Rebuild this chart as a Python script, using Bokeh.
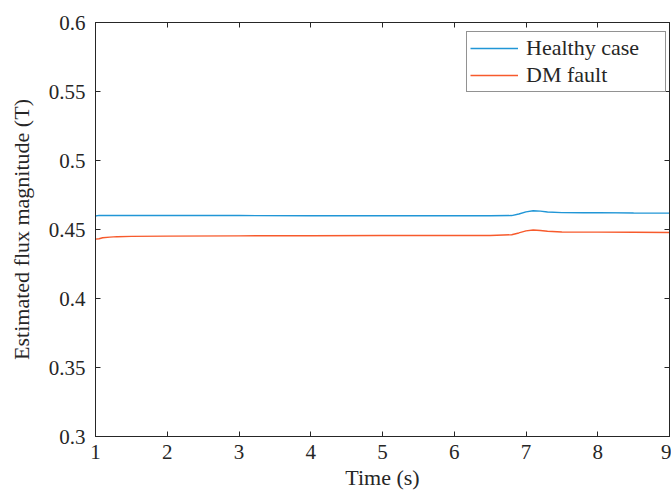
from bokeh.plotting import figure
from bokeh.models import FixedTicker, LinearAxis, Legend, LegendItem, Range1d, CustomJSTickFormatter
from bokeh.embed import file_html
from bokeh.resources import INLINE

time_s = [1.0, 1.05, 1.1, 1.2, 1.3, 1.5, 2.0, 3.0, 4.0, 5.0, 6.0, 6.5, 6.8, 6.9, 7.0, 7.1, 7.2, 7.3, 7.5, 7.8, 8.0, 8.5, 9.0]
healthy = [0.4598, 0.4602, 0.4601, 0.4601, 0.4601, 0.4601, 0.4601, 0.4601, 0.4600, 0.4600, 0.4600, 0.4600, 0.4601,
           0.4612, 0.4628, 0.4636, 0.4633, 0.4627, 0.4622, 0.4621, 0.4622, 0.4620, 0.4619]
dm_fault = [0.4430, 0.4433, 0.4440, 0.4445, 0.4448, 0.4450, 0.4452, 0.4454, 0.4455, 0.4456, 0.4457, 0.4457, 0.4462,
            0.4475, 0.4490, 0.4496, 0.4493, 0.4487, 0.4482, 0.4481, 0.4481, 0.4480, 0.4478]
x_ticks = [1, 2, 3, 4, 5, 6, 7, 8, 9]
y_ticks = [0.3, 0.35, 0.4, 0.45, 0.5, 0.55, 0.6]
y_tick_labels = ["0.3", "0.35", "0.4", "0.45", "0.5", "0.55", "0.6"]

FONT = "Liberation Serif"
INK = "#262626"

p = figure(width=671, height=497, output_backend="svg", toolbar_location=None,
           x_range=Range1d(1, 9), y_range=Range1d(0.3, 0.6),
           min_border_left=95, min_border_right=2, min_border_top=22, min_border_bottom=61)
p.xgrid.visible = False
p.ygrid.visible = False
p.outline_line_color = INK
p.outline_line_width = 1
p.background_fill_color = "white"

r1 = p.line(time_s, healthy, line_color="#2196d6", line_width=1.4)
r2 = p.line(time_s, dm_fault, line_color="#f75a2c", line_width=1.4)

for ax in (p.xaxis[0], p.yaxis[0]):
    ax.major_tick_in = 5
    ax.major_tick_out = 0
    ax.minor_tick_in = 0
    ax.minor_tick_out = 0
    ax.axis_line_color = INK
    ax.major_tick_line_color = INK
    ax.major_label_text_font = FONT
    ax.major_label_text_font_size = "21px"
    ax.major_label_text_color = INK
    ax.axis_label_text_font = FONT
    ax.axis_label_text_font_size = "22px"
    ax.axis_label_text_font_style = "normal"
    ax.axis_label_text_color = INK

p.xaxis[0].ticker = FixedTicker(ticks=x_ticks)
p.yaxis[0].ticker = FixedTicker(ticks=y_ticks)
p.yaxis[0].major_label_overrides = {t: l for t, l in zip(y_ticks, y_tick_labels)}
p.xaxis[0].axis_label = "Time (s)"
p.yaxis[0].axis_label = "Estimated flux magnitude (T)"
p.xaxis[0].major_label_standoff = 8
p.yaxis[0].major_label_standoff = 10
p.xaxis[0].axis_label_standoff = 3
p.yaxis[0].axis_label_standoff = 12

blank = CustomJSTickFormatter(code="return ''")
right = LinearAxis(ticker=FixedTicker(ticks=y_ticks), formatter=blank,
                   major_tick_in=5, major_tick_out=0, minor_tick_in=0, minor_tick_out=0,
                   major_label_standoff=0,
                   axis_line_color=INK, major_tick_line_color=INK)
top = LinearAxis(ticker=FixedTicker(ticks=x_ticks), formatter=blank,
                 major_tick_in=5, major_tick_out=0, minor_tick_in=0, minor_tick_out=0,
                 major_label_standoff=0,
                 axis_line_color=INK, major_tick_line_color=INK)
p.add_layout(right, "right")
p.add_layout(top, "above")

legend = Legend(items=[LegendItem(label="Healthy case", renderers=[r1]),
                       LegendItem(label="DM fault", renderers=[r2])],
                location=(371, 344), label_text_font=FONT, label_text_font_size="22px",
                label_text_color=INK, border_line_color=INK, border_line_width=1,
                glyph_width=48, glyph_height=18, label_height=18, label_width=136,
                spacing=1, padding=3,
                margin=0, label_standoff=8, background_fill_alpha=1)
p.add_layout(legend, "center")

open("out.html", "w").write(file_html(p, INLINE))
